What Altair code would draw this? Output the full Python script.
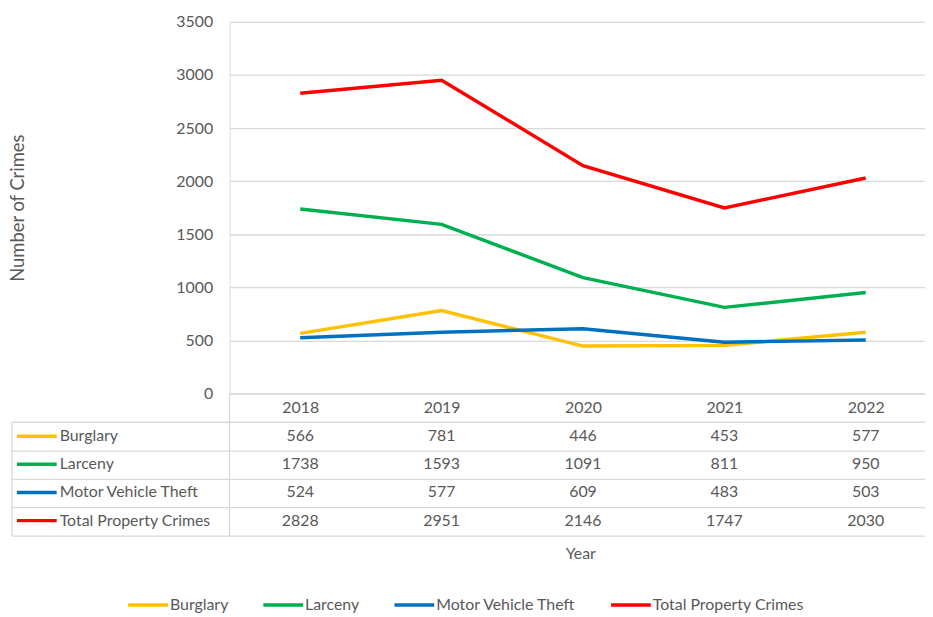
import altair as alt
import pandas as pd

# ---- data ----
years = ["2018", "2019", "2020", "2021", "2022"]
series = ["Burglary", "Larceny", "Motor Vehicle Theft", "Total Property Crimes"]
burglary = [566, 781, 446, 453, 577]
larceny = [1738, 1593, 1091, 811, 950]
motor_vehicle_theft = [524, 577, 609, 483, 503]
total_property = [2828, 2951, 2146, 1747, 2030]
colors = ["#FFC000", "#00B050", "#0070C0", "#FF0000"]

rows = []
for s, vals in zip(series, [burglary, larceny, motor_vehicle_theft, total_property]):
    for yr, v in zip(years, vals):
        rows.append({"Year": yr, "Series": s, "Value": v})
df = pd.DataFrame(rows)
labels_df = pd.DataFrame({"Series": series})
one = pd.DataFrame({"k": [0]})

# ---- style / layout ----
FONT = "Lato"
FS = 16
GRAY = "#595959"
GRID = "#d9d9d9"
W, H = 700, 374
LEFT = -219

xscale = alt.Scale(type="point", domain=years, range=[0, 711.5], padding=0.5)
rowscale = alt.Scale(type="point", domain=series, range=[417, 502], padding=0)
color_scale = alt.Scale(domain=series, range=colors)

lines = alt.Chart(df).mark_line(strokeWidth=3.5).encode(
    x=alt.X("Year:O", scale=xscale, sort=years,
            axis=alt.Axis(title="Year", ticks=False, domain=True, domainColor=GRID,
                          domainWidth=1.3, labelAngle=0, labelBaseline="middle",
                          labelPadding=14, labelFont=FONT, labelFontSize=FS,
                          labelColor=GRAY, titleFont=FONT, titleFontSize=FS,
                          titleColor=GRAY, titleFontWeight="normal",
                          titleX=353, titleY=161, titleBaseline="middle")),
    y=alt.Y("Value:Q", scale=alt.Scale(domain=[0, 3500], nice=False),
            axis=alt.Axis(values=[0, 500, 1000, 1500, 2000, 2500, 3000, 3500],
                          format="d",
                          domain=False, ticks=False, grid=True, gridColor=GRID,
                          gridWidth=1.3, labelPadding=17, labelFont=FONT,
                          labelFontSize=FS, labelColor=GRAY,
                          title="Number of Crimes", titleFont=FONT, titleFontSize=18.5,
                          titleColor=GRAY, titleFontWeight="normal",
                          titleX=-203, titleY=187)),
    color=alt.Color("Series:N", scale=color_scale, sort=series,
                    legend=alt.Legend(orient="none", legendX=-104, legendY=565,
                                      padding=0,
                                      direction="horizontal", title=None,
                                      symbolType="stroke", symbolSize=1600,
                                      symbolStrokeWidth=3.5, labelFont=FONT,
                                      labelFontSize=FS, labelColor=GRAY,
                                      labelOffset=0, columnPadding=28)),
)

values_text = alt.Chart(df).mark_text(font=FONT, fontSize=FS, color=GRAY,
                                      baseline="middle").encode(
    x=alt.X("Year:O", scale=xscale, sort=years),
    y=alt.Y("Series:N", scale=rowscale, axis=None),
    text=alt.Text("Value:Q"),
)

row_labels = alt.Chart(labels_df).mark_text(font=FONT, fontSize=FS, color=GRAY,
                                            align="left", baseline="middle").encode(
    x=alt.value(LEFT + 48),
    y=alt.Y("Series:N", scale=rowscale, axis=None),
    text="Series:N",
)

row_keys = alt.Chart(labels_df).mark_rule(strokeWidth=3.5).encode(
    x=alt.value(LEFT + 5), x2=alt.value(LEFT + 45),
    y=alt.Y("Series:N", scale=rowscale, axis=None),
    stroke=alt.Stroke("Series:N", scale=color_scale, legend=None),
)

grid_layers = []
for yy in [403, 432, 460.5, 489, 517.5]:
    grid_layers.append(alt.Chart(one).mark_rule(color=GRID, strokeWidth=1.3).encode(
        x=alt.value(LEFT), x2=alt.value(W), y=alt.value(yy)))
grid_layers.append(alt.Chart(one).mark_rule(color=GRID, strokeWidth=1.3).encode(
    x=alt.value(0), y=alt.value(374), y2=alt.value(517.5)))
grid_layers.append(alt.Chart(one).mark_rule(color=GRID, strokeWidth=1.3).encode(
    x=alt.value(LEFT), y=alt.value(403), y2=alt.value(517.5)))

chart = alt.layer(*grid_layers, lines, values_text, row_labels, row_keys).resolve_scale(
    y="independent"
).properties(
    width=W, height=H,
    autosize=alt.AutoSizeParams(type="none"),
    padding={"left": 223, "top": 12, "right": 0, "bottom": 219},
).configure_view(stroke=None).configure(background="white")

chart.save("out.html", embed_options={"renderer": "svg", "actions": False})
